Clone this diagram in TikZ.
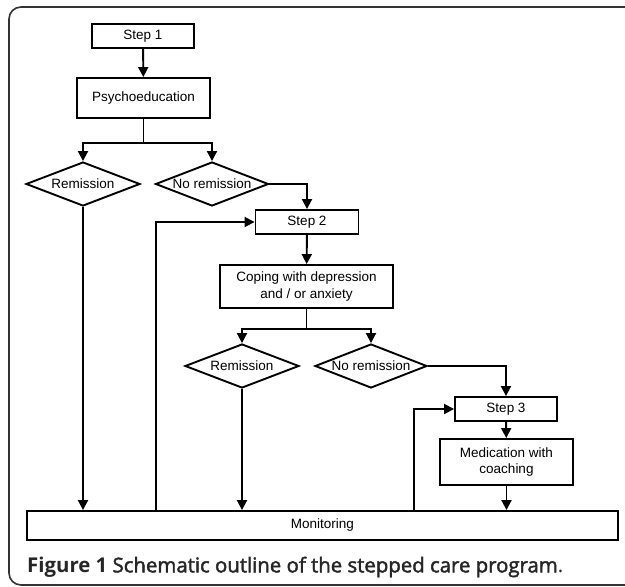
\documentclass[tikz,border=0pt]{standalone}
\usepackage{fontspec}
\usepackage{graphicx}
\setmainfont{Liberation Sans}
\newfontfamily\capfont{Open Sans}
\newfontfamily\capsemi{Open Sans}[FakeBold=2]
\usetikzlibrary{shapes.geometric,arrows.meta}
\begin{document}
\begin{tikzpicture}[x=1pt,y=-1pt,
  every node/.style={font=\fontsize{13.5}{16.5}\selectfont},
  box/.style={draw,line width=1.9pt,inner sep=0pt,align=center},
  dia/.style={draw,diamond,line width=1.9pt,inner sep=0pt,aspect=2.6,minimum width=114pt,minimum height=44pt},
  link/.style={line width=1.9pt},
  arr/.style={link,-{Triangle[length=10pt,width=10pt]}},
  frame/.style={draw=black!80,line width=1.6pt,rounded corners=12pt}]
\useasboundingbox (0,0) rectangle (625,587);
\draw[frame] (9,7) rectangle (660,585);
\node[box,minimum width=102pt,minimum height=24pt] (s1) at (143,36) {Step 1};
\node[box,minimum width=133pt,minimum height=40pt] (psy) at (143.5,98) {Psychoeducation};
\node[dia] (r1) at (83,184) {Remission};
\node[dia,minimum width=113pt] (nr1) at (212,184) {No remission};
\node[box,minimum width=103pt,minimum height=24pt] (s2) at (307,222) {Step 2};
\node[box,minimum width=173pt,minimum height=43pt] (cop) at (306.5,286.5) {Coping with depression\\and / or anxiety};
\node[dia] (r2) at (242,366) {Remission};
\node[dia,minimum width=112pt] (nr2) at (371,366) {No remission};
\node[box,minimum width=102pt,minimum height=24pt] (s3) at (506,409) {Step 3};
\node[box,minimum width=133pt,minimum height=46pt] (med) at (506.5,462) {Medication with\\coaching};
\node[box,minimum width=591pt,minimum height=29pt] (mon) at (322.5,525.5) {Monitoring};
\node[anchor=west,inner sep=0pt,text=black!85,font=\capfont\fontsize{18}{20}\selectfont] (cap) at (27,567)
  {\resizebox{536pt}{!}{\textbf{Figure 1} {\capsemi Schematic outline of the stepped care program}.}};
% connectors
\draw[arr] (s1) -- (psy);
\coordinate (b1) at (143.5,143);
\draw[link] (psy.south) -- (b1);
\draw[arr] (b1) -| (r1.north);
\draw[arr] (b1) -| (nr1.north);
\draw[arr] (nr1.east) -| (s2.north);
\draw[arr] (s2) -- (cop);
\coordinate (b2) at (306.5,329);
\draw[link] (cop.south) -- (b2);
\draw[arr] (b2) -| (r2.north);
\draw[arr] (b2) -| (nr2.north);
\draw[arr] (nr2.east) -| (s3.north);
\draw[arr] (s3) -- (med);
\draw[arr] (r1.south) -- (r1.south |- mon.north);
\draw[arr] (r2.south) -- (r2.south |- mon.north);
\draw[arr] (med.south) -- (med.south |- mon.north);
\coordinate (f1) at (156,222);
\draw[arr] (f1 |- mon.north) -- (f1) -- (s2.west);
\coordinate (f2) at (414,409);
\draw[arr] (f2 |- mon.north) -- (f2) -- (s3.west);
\end{tikzpicture}
\end{document}
